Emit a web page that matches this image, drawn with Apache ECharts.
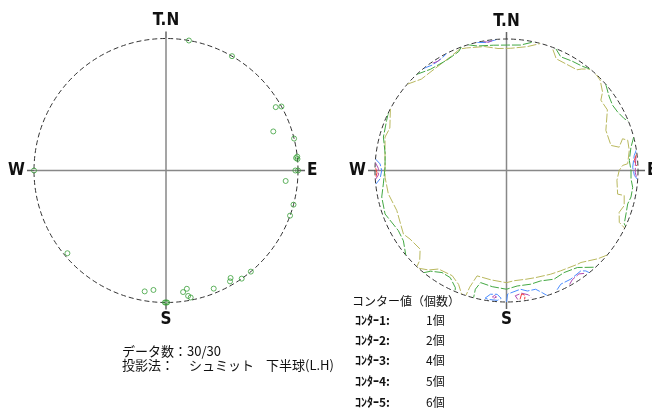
<!DOCTYPE html>
<html>
<head>
<meta charset="utf-8">
<script src="https://cdn.jsdelivr.net/npm/echarts@6/dist/echarts.min.js"></script>
<style>html,body{margin:0;padding:0;background:#fff}#main{width:652px;height:413px}</style>
</head>
<body>
<div id="main"></div>
<script>
var myChart = echarts.init(document.getElementById('main'));

// 方位ラベル (0, 90, 180, 270度)
var dirLabels = ['T.N', 'E', 'S', 'W'];

// 極点 [半径(0-1), 方位角(度)]
var poles = [
    [1.0, 10], [1.0, 30], [0.96, 60], [1.0, 61], [0.865, 70], [1.0, 76],
    [1.0, 84], [0.99, 84.5], [1.0, 85], [0.98, 90], [1.0, 90], [1.0, 270],
    [0.91, 95], [1.0, 105], [1.0, 110], [1.0, 140], [1.0, 145], [0.95, 149],
    [0.97, 150], [0.965, 158], [0.91, 170], [0.93, 172], [0.965, 170], [0.98, 169],
    [1.0, 179.5], [1.0, 180], [1.0, 180.5], [0.91, 186], [0.93, 190], [0.975, 230]
];

// コンター線 [半径, 方位角]
var contour1 = [
    [[1.0,311],[0.95,317],[0.947,325],[0.965,334],[0.99,339],[0.98,342],[0.957,350],[0.93,356],[0.93,2],[0.955,9.5],[1.0,15]],
    [[0.985,21],[0.93,24],[0.935,35],[0.96,36.5],[1.0,39.5]],
    [[1.0,42.5],[0.99,46],[0.944,50.7],[0.895,53.3],[0.895,59],[0.815,68],[0.817,76.5],[0.875,78.3],[0.915,74.7],[0.95,76],[0.946,80.7],[0.923,86.8],[0.884,87.5],[0.857,90],[0.843,95],[0.864,102],[0.915,102],[0.934,106.6],[0.914,110.4],[0.944,114.7],[1.0,116]],
    [[1.0,130],[0.966,134],[0.9,141],[0.894,143],[0.867,151.6],[0.857,157],[0.844,164.8],[0.84,170],[0.84,176],[0.853,180],[0.84,188],[0.832,195.6],[0.93,197.5],[1.0,198]],
    [[1.0,222],[0.96,218],[0.91,214.6],[0.9,207.3],[0.94,202.8],[1.0,200]],
    [[1.0,298],[0.944,290],[0.958,285.4],[0.927,274.7],[0.925,266.8],[0.916,258.8],[0.888,250],[0.921,238.3],[0.9,234.6],[0.888,227.7],[0.95,224],[1.0,223]]
];
var contour2 = [
    [[1.0,317],[0.963,323],[0.954,331.7],[0.974,338],[1.0,340]],
    [[1.0,343],[0.973,346.7],[0.958,354],[0.954,0.5],[0.96,6.4],[1.0,12]],
    [[1.0,22],[0.958,25.5],[0.97,31],[0.98,36],[1.0,39.5]],
    [[1.0,49],[0.961,54.4],[0.947,58.4],[0.955,62.2],[0.978,66.2],[1.0,68]],
    [[1.0,75.3],[0.963,79.4],[0.937,85.3],[0.947,90],[0.949,93.8],[0.968,97.6],[0.968,102],[0.956,105.4],[0.967,110],[0.983,114.4],[1.0,115]],
    [[0.99,138],[0.914,143.8],[0.891,150.6],[0.902,156.4],[0.879,162.8],[0.884,168],[0.882,174.7],[0.903,180],[0.89,187],[0.875,193],[0.933,194.7],[1.0,194.5]],
    [[1.0,219],[0.959,217],[0.918,212.3],[0.92,207.7],[0.972,203.6],[1.0,203]],
    [[1.0,296],[0.988,292.7],[0.97,285.2],[0.932,278],[0.924,271.6],[0.942,263.8],[0.97,258],[0.981,250.3],[0.941,241],[0.949,235.7],[1.0,230]]
];
var contour3 = [
    [[1.0,321],[0.98,325],[0.985,330],[1.0,333]],
    [[1.0,347],[0.985,351],[1.0,356]],
    [[1.0,275],[0.963,273],[0.949,270],[0.964,266.2],[1.0,264]],
    [[1.0,81],[0.978,83.3],[0.96,88.5],[0.973,92.2],[1.0,94]],
    [[0.984,189.5],[0.949,187.4],[0.944,184.3],[0.973,182.4],[0.99,184],[0.99,188],[0.984,189.5]],
    [[1.0,180],[0.94,179.5],[0.909,173.3],[0.93,170.2],[0.93,166.2],[0.968,163.7],[1.0,162]],
    [[0.985,157],[0.958,154.5],[0.96,149.4],[0.95,143.5],[0.973,141.7],[1.0,141]]
];
var contour4 = [
    [[0.99,325.5],[0.98,328],[0.99,330]],
    [[0.995,350],[0.985,352],[0.995,354]],
    [[1.0,273.5],[0.975,271],[0.975,268],[1.0,266]],
    [[0.99,84],[0.98,88],[0.98,91],[0.99,93]],
    [[0.97,186.5],[0.955,185.5],[0.965,184.5],[0.975,185.5],[0.97,186.5]],
    [[0.985,175],[0.955,176],[0.94,173],[0.96,170],[0.985,169]],
    [[0.99,151],[0.97,149],[0.96,145],[0.98,143]]
];
var contour5 = [
    [[0.995,271],[0.985,269],[0.995,267]],
    [[0.995,83],[0.975,85.5],[0.99,88]],
    [[0.985,174],[0.945,173],[0.96,171.5],[0.99,172]]
];
var contourSets = [contour1, contour2, contour3, contour4, contour5];
var contourColors = ['#b9b85e', '#43a843', '#4a8cff', '#b04ab0', '#f03c3c'];

// 凡例
var contourNames = ['ｺﾝﾀｰ1:', 'ｺﾝﾀｰ2:', 'ｺﾝﾀｰ3:', 'ｺﾝﾀｰ4:', 'ｺﾝﾀｰ5:'];
var contourValues = ['1個', '2個', '4個', '5個', '6個'];
var dataCountText = 'データ数：30/30';
var projText = ['投影法：', 'シュミット', '下半球(L.H)'];
var legendTitle = 'コンター値（個数）';

function makeAngleAxis(idx) {
    return {
        polarIndex: idx,
        type: 'value',
        min: 0,
        max: 360,
        interval: 90,
        startAngle: 90,
        clockwise: true,
        axisLine: {lineStyle: {color: '#333', width: 1, type: [5, 3]}},
        axisTick: {show: true, length: 7, lineStyle: {color: '#666', width: 1.5}},
        axisLabel: {
            margin: 9,
            color: '#111',
            fontSize: 17,
            fontWeight: 'bold',
            fontFamily: '"DejaVu Sans Condensed", "Liberation Sans Narrow", sans-serif',
            formatter: function (v) {
                return v < 360 ? dirLabels[Math.round(v / 90)] : '';
            }
        },
        splitLine: {show: true, lineStyle: {color: '#888', width: 1.5}}
    };
}
function makeRadiusAxis(idx) {
    return {polarIndex: idx, type: 'value', min: 0, max: 1, show: false, splitLine: {show: false}};
}

var series = [{
    type: 'scatter',
    coordinateSystem: 'polar',
    polarIndex: 0,
    data: poles,
    symbol: 'circle',
    symbolSize: 5,
    itemStyle: {color: 'rgba(0,0,0,0)', borderColor: '#3aa03a', borderWidth: 1},
    z: 5
}];
function each(arr, fn) { for (var i = 0; i < arr.length; i++) fn(i, arr[i]); }
each(contourSets, function (ci, pieces) {
    each(pieces, function (pi, piece) {
        series.push({
            type: 'line',
            coordinateSystem: 'polar',
            polarIndex: 1,
            data: piece,
            showSymbol: false,
            lineStyle: {color: contourColors[ci], width: 1, type: [9, 2]},
            z: 3
        });
    });
});

var jpFont = '"Noto Sans CJK JP", sans-serif';
var graphic = [
    {type: 'text', left: 122, top: 345, style: {text: dataCountText, font: '13px ' + jpFont, fill: '#111'}},
    {type: 'text', left: 122, top: 359, style: {text: projText[0], font: '13px ' + jpFont, fill: '#111'}},
    {type: 'text', left: 189, top: 359, style: {text: projText[1], font: '13px ' + jpFont, fill: '#111'}},
    {type: 'text', left: 266, top: 359, style: {text: projText[2], font: '13px ' + jpFont, fill: '#111'}},
    {type: 'text', left: 352, top: 295, style: {text: legendTitle, font: '12px ' + jpFont, fill: '#111'}}
];
var rowY = [314, 334, 354, 375, 396];
each(contourNames, function (i, name) {
    graphic.push({type: 'text', left: 355, top: rowY[i], style: {text: name, font: 'bold 12px ' + jpFont, fill: '#111'}});
    graphic.push({type: 'text', left: 426, top: rowY[i], style: {text: contourValues[i], font: '12px ' + jpFont, fill: '#111'}});
});

var option = {
    animation: false,
    backgroundColor: '#fff',
    polar: [
        {center: [166, 170.5], radius: 132},
        {center: [506.5, 170.5], radius: 131.5}
    ],
    angleAxis: [makeAngleAxis(0), makeAngleAxis(1)],
    radiusAxis: [makeRadiusAxis(0), makeRadiusAxis(1)],
    graphic: graphic,
    series: series
};
myChart.setOption(option);
</script>
</body>
</html>
